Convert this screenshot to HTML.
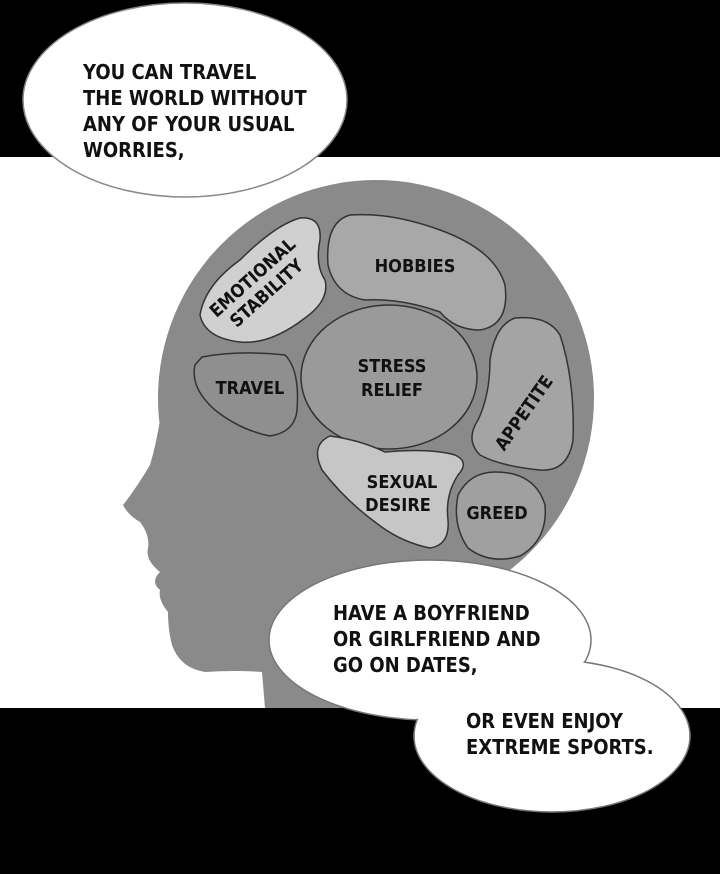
<!DOCTYPE html>
<html><head><style>
html,body{margin:0;padding:0;background:#000;}
svg{display:block;}
text{font-family:"DejaVu Sans Condensed","Liberation Sans",sans-serif;fill:#111;font-weight:bold;}
</style></head><body>
<svg width="720" height="874" viewBox="0 0 720 874" xmlns="http://www.w3.org/2000/svg">
<rect x="0" y="0" width="720" height="874" fill="#000"/>
<rect x="0" y="157" width="720" height="551" fill="#fff"/>
<!-- head -->
<g fill="#8a8a8a">
<circle cx="376" cy="398" r="218"/>
<path d="M162,380 L160,420 Q156,445 150,465 Q135,490 123,505 Q128,515 140,522 Q150,535 148,548 Q145,560 160,572 Q150,582 160,590 Q158,600 168,612 Q168,630 172,645 Q180,668 205,672 Q235,670 262,672 L265,708 L430,708 L430,560 L380,600 L200,420 Z"/>
</g>
<!-- regions -->
<g stroke="#333" stroke-width="1.5">
<path d="M300,218 Q322,216 320,240 Q315,265 325,280 Q330,300 305,318 Q270,345 240,342 Q205,338 200,315 Q205,285 240,260 Q275,225 300,218 Z" fill="#d0d0d0"/>
<path d="M350,215 Q390,212 440,230 Q495,250 505,285 Q510,325 480,330 Q455,330 440,312 Q400,298 365,300 Q335,295 328,265 Q325,222 350,215 Z" fill="#a8a8a8"/>
<path d="M202,357 Q240,350 285,355 Q300,370 297,410 Q295,432 270,436 Q240,430 215,410 Q190,388 195,365 Z" fill="#8f8f8f"/>
<ellipse cx="389" cy="377" rx="88" ry="72" fill="#9a9a9a"/>
<path d="M515,318 Q548,315 560,335 Q575,380 573,440 Q568,472 540,470 Q500,466 480,455 Q465,440 478,420 Q490,395 490,360 Q495,325 515,318 Z" fill="#a4a4a4"/>
<path d="M330,436 Q360,440 385,452 Q430,448 455,455 Q470,462 458,475 Q445,495 448,520 Q450,545 430,548 Q400,542 375,522 Q345,500 322,470 Q310,445 330,436 Z" fill="#c6c6c6"/>
<path d="M495,472 Q535,472 545,505 Q548,540 520,556 Q490,565 468,548 Q452,525 458,495 Q470,472 495,472 Z" fill="#a0a0a0"/>
</g>
<g font-size="18" text-anchor="middle">
<text transform="translate(262,288) rotate(-42)"><tspan x="0" y="-8">EMOTIONAL</tspan><tspan x="0" y="13">STABILITY</tspan></text>
<text x="415" y="272">HOBBIES</text>
<text x="250" y="394">TRAVEL</text>
<text x="392" y="372">STRESS</text>
<text x="392" y="396">RELIEF</text>
<text transform="translate(524,413) rotate(-55)" x="0" y="6">APPETITE</text>
<text x="402" y="488">SEXUAL</text>
<text x="398" y="511">DESIRE</text>
<text x="497" y="519">GREED</text>
</g>
<!-- top bubble -->
<ellipse cx="185" cy="100" rx="162" ry="97" fill="#fff" stroke="#888" stroke-width="1.5"/>
<g font-size="20">
<text x="83" y="79">YOU CAN TRAVEL</text>
<text x="83" y="105">THE WORLD WITHOUT</text>
<text x="83" y="131">ANY OF YOUR USUAL</text>
<text x="83" y="157">WORRIES,</text>
</g>
<!-- bottom bubbles -->
<ellipse cx="430" cy="640" rx="161" ry="80" fill="#fff" stroke="#777" stroke-width="1.5"/>
<ellipse cx="552" cy="736" rx="138" ry="76" fill="#fff" stroke="#777" stroke-width="1.5"/>
<ellipse cx="430" cy="640" rx="160" ry="79" fill="#fff"/>
<g font-size="20">
<text x="333" y="620">HAVE A BOYFRIEND</text>
<text x="333" y="646">OR GIRLFRIEND AND</text>
<text x="333" y="672">GO ON DATES,</text>
<text x="466" y="728">OR EVEN ENJOY</text>
<text x="466" y="754">EXTREME SPORTS.</text>
</g>
</svg>
</body></html>
